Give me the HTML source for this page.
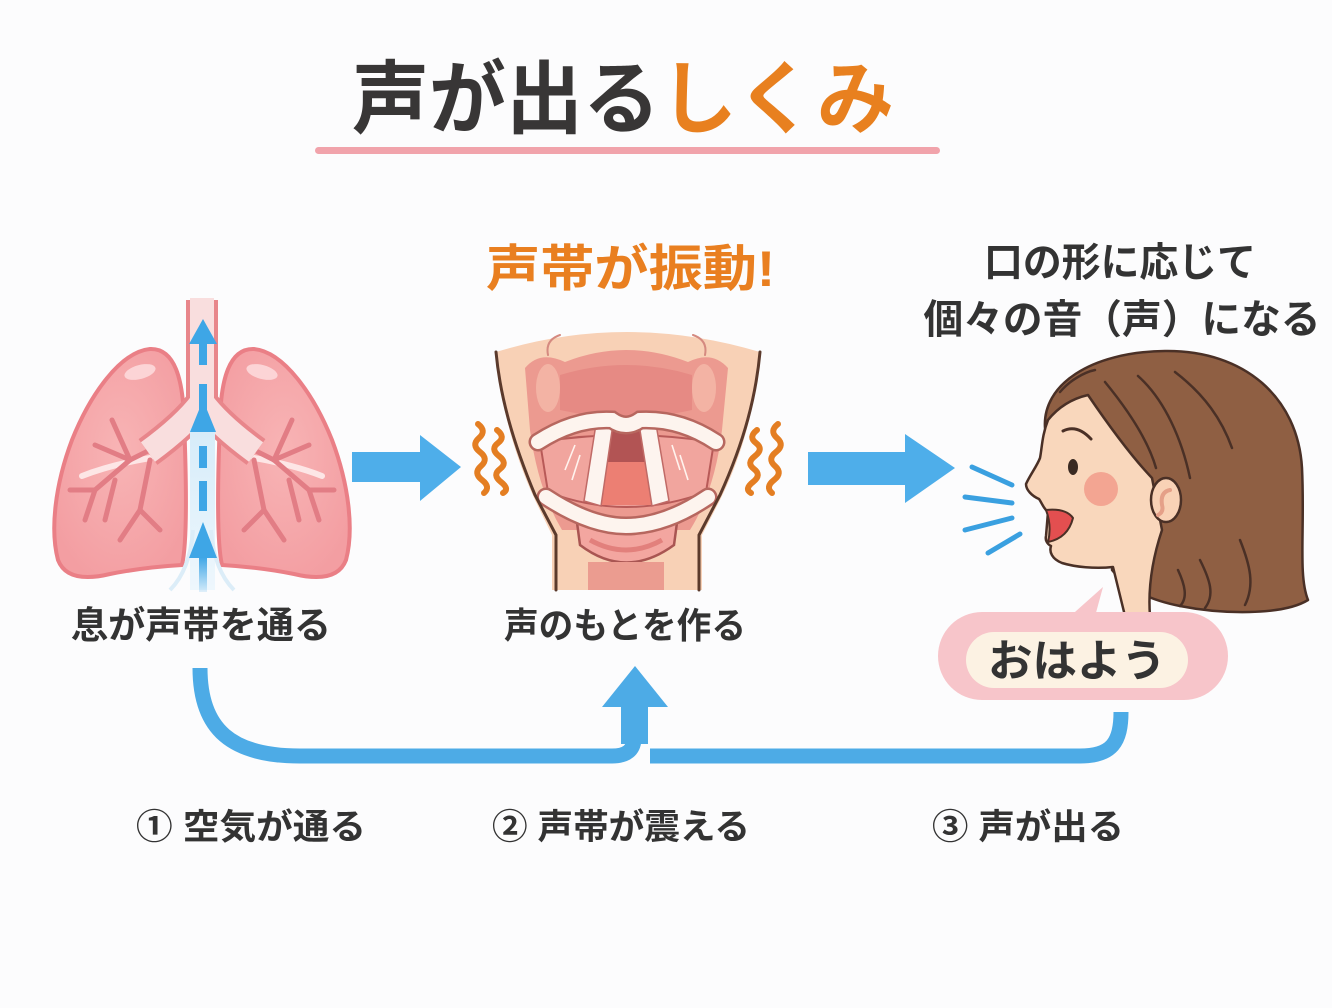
<!DOCTYPE html>
<html lang="ja">
<head>
<meta charset="UTF-8">
<style>
html,body{margin:0;padding:0;background:#fcfcfd;}
svg{display:block;}
text{font-family:"Liberation Sans","Noto Sans CJK JP",sans-serif;font-weight:700;}
</style>
</head>
<body>
<svg width="1332" height="1008" viewBox="0 0 1332 1008" xmlns="http://www.w3.org/2000/svg">
<defs>
  <linearGradient id="glow" x1="0" y1="0" x2="0" y2="1">
    <stop offset="0" stop-color="#d6ecf9"/>
    <stop offset="1" stop-color="#eef7fd"/>
  </linearGradient>
  <linearGradient id="stemfade" x1="0" y1="0" x2="0" y2="1">
    <stop offset="0" stop-color="#3ea6e6"/>
    <stop offset="1" stop-color="#3ea6e6" stop-opacity="0.15"/>
  </linearGradient>
  <radialGradient id="lungfill" cx="0.5" cy="0.45" r="0.6">
    <stop offset="0" stop-color="#f8b4b5"/>
    <stop offset="1" stop-color="#f39ea2"/>
  </radialGradient>
</defs>
<rect width="1332" height="1008" fill="#fcfcfd"/>

<!-- Title -->
<text x="352" y="127" font-size="80" textLength="542" lengthAdjust="spacingAndGlyphs"><tspan fill="#383636">声が出る</tspan><tspan fill="#e8801f">しくみ</tspan></text>
<rect x="315" y="147" width="625" height="7" rx="3.5" fill="#f1a3ab"/>

<!-- ===== Lungs ===== -->
<g>
  <path d="M150 349 C120 352 90 395 72 440 C55 485 50 530 58 560 C65 578 85 580 110 574 C140 568 165 566 182 565 C188 540 186 470 184 420 C183 380 175 348 150 349 Z" fill="url(#lungfill)" stroke="#ea7f86" stroke-width="4"/>
  <path d="M254 349 C284 352 314 395 332 440 C349 485 354 530 346 560 C339 578 319 580 294 574 C264 568 239 566 222 565 C216 540 218 470 220 420 C221 380 229 348 254 349 Z" fill="url(#lungfill)" stroke="#ea7f86" stroke-width="4"/>
  <ellipse cx="140" cy="372" rx="16" ry="7" fill="#fcd4d6" transform="rotate(-15 140 372)"/>
  <ellipse cx="262" cy="372" rx="16" ry="7" fill="#fcd4d6" transform="rotate(15 262 372)"/>
  <path d="M82 476 Q110 465 150 458" stroke="#fde6e6" stroke-width="6" fill="none" stroke-linecap="round"/>
  <path d="M322 476 Q294 465 254 458" stroke="#fde6e6" stroke-width="6" fill="none" stroke-linecap="round"/>
  <g stroke="#e27d85" stroke-width="5" fill="none" stroke-linecap="round">
    <path d="M160 445 L130 460 L95 445"/>
    <path d="M130 460 L112 420"/>
    <path d="M130 460 L95 490 L85 520"/>
    <path d="M95 490 L70 490"/>
    <path d="M150 460 L140 510 L120 540"/>
    <path d="M140 510 L160 530"/>
    <path d="M115 480 L105 520"/>
    <path d="M244 445 L274 460 L309 445"/>
    <path d="M274 460 L292 420"/>
    <path d="M274 460 L309 490 L319 520"/>
    <path d="M309 490 L334 490"/>
    <path d="M254 460 L264 510 L284 540"/>
    <path d="M264 510 L244 530"/>
    <path d="M289 480 L299 520"/>
  </g>
  <g fill="none" stroke-linecap="butt">
    <path d="M202 300 L202 402 M202 402 Q185 425 148 452 M202 402 Q219 425 256 452" stroke="#e8868b" stroke-width="32"/>
    <path d="M202 298 L202 402 M202 402 Q185 425 148 452 M202 402 Q219 425 256 452" stroke="#f9dede" stroke-width="24"/>
  </g>
  <rect x="190" y="428" width="25" height="162" fill="url(#glow)"/>
  <path d="M170 590 Q190 570 193 530 M234 590 Q214 570 211 530" stroke="#dcedf8" stroke-width="4" fill="none"/>
  <g fill="#3ea6e6">
    <polygon points="203,319 189,344 217,344"/>
    <rect x="199" y="343" width="8" height="22"/>
    <rect x="199" y="384" width="8" height="46"/>
    <polygon points="203,400 190,432 216,432"/>
    <rect x="199" y="446" width="8" height="22"/>
    <rect x="199" y="481" width="8" height="30"/>
    <polygon points="203,522 189,558 217,558"/>
    <rect x="199" y="557" width="8" height="35" fill="url(#stemfade)"/>
  </g>
</g>

<!-- Arrows between -->
<polygon points="352,452 420,452 420,435 461,467 420,501 420,482 352,482" fill="#4eaeea"/>
<polygon points="808,452 905,452 905,434 955,468 905,503 905,485 808,485" fill="#4eaeea"/>

<!-- squiggles -->
<g stroke="#e47e22" stroke-width="6" fill="none" stroke-linecap="round">
  <path d="M478 424 q9 7 1 14 t1 14 t1 14 t1 14 t2 13"/>
  <path d="M497 430 q9 7 1 13 t1 13 t1 13 t1 13 t2 11"/>
  <path d="M757 430 q-9 7 -1 13 t-1 13 t-1 13 t-1 13 t-2 11"/>
  <path d="M778 424 q-9 7 -1 14 t-1 14 t-1 14 t-1 14 t-2 13"/>
</g>

<!-- ===== Larynx ===== -->
<g>
  <path d="M496 352 Q626 312 760 352 C756 400 745 450 720 500 L702 535 L702 590 L552 590 L552 535 L535 500 C512 450 500 400 496 352 Z" fill="#f8d1b6"/>
  <path d="M525 368 Q540 350 565 362 Q626 338 688 362 Q712 350 728 368 L722 430 Q715 490 690 530 L562 530 Q538 490 530 430 Z" fill="#ec9a90"/>
  <ellipse cx="548" cy="388" rx="12" ry="24" fill="#f3b3a4"/>
  <ellipse cx="704" cy="388" rx="12" ry="24" fill="#f3b3a4"/>
  <path d="M560 375 Q626 355 692 375 L692 410 Q626 425 560 410 Z" fill="#e68a84"/>
  <path d="M540 442 Q626 428 714 442 L706 492 Q626 522 548 492 Z" fill="#f1a59e" stroke="#b85a58" stroke-width="2"/>
  <g stroke="#fff3ee" stroke-width="1.6" fill="none">
    <path d="M565 470 L575 445 M572 480 L580 455 M680 470 L672 445 M688 480 L680 455"/>
  </g>
  <polygon points="612,428 640,428 649,462 603,462" fill="#b25454"/>
  <polygon points="603,462 649,462 655,505 598,505" fill="#ec7f73"/>
  <polygon points="596,424 613,424 601,506 584,501" fill="#fdf4ef" stroke="#c06a66" stroke-width="1.5"/>
  <polygon points="639,424 656,424 669,501 652,506" fill="#fdf4ef" stroke="#c06a66" stroke-width="1.5"/>
  <path d="M538 442 Q575 418 612 420 Q626 430 640 420 Q680 418 716 442" stroke="#b7675f" stroke-width="19" fill="none" stroke-linecap="round"/>
  <path d="M538 442 Q575 418 612 420 Q626 430 640 420 Q680 418 716 442" stroke="#fdf4ee" stroke-width="14" fill="none" stroke-linecap="round"/>
  <path d="M576 515 Q626 540 678 515 L674 545 Q626 580 580 545 Z" fill="#f3a6a0" stroke="#a95552" stroke-width="2.5"/>
  <path d="M590 540 Q626 560 662 540" stroke="#e2807c" stroke-width="5" fill="none"/>
  <rect x="588" y="562" width="76" height="28" fill="#eb9c90"/>
  <path d="M546 497 Q590 526 626 526 Q665 526 708 497" stroke="#b7675f" stroke-width="19" fill="none" stroke-linecap="round"/>
  <path d="M546 497 Q590 526 626 526 Q665 526 708 497" stroke="#fdf4ee" stroke-width="14" fill="none" stroke-linecap="round"/>
  <g stroke="#5b3a2c" stroke-width="3" fill="none" stroke-linecap="round">
    <path d="M496 352 C500 395 512 440 535 495 L556 535 L556 590"/>
    <path d="M760 352 C756 395 745 440 720 495 L699 535 L699 590"/>
    <path d="M548 355 Q545 340 560 335 M705 355 Q708 340 693 335" stroke="#d58a80" stroke-width="2"/>
  </g>
</g>

<!-- ===== Girl ===== -->
<g stroke-linejoin="round">
  <g stroke="#3aa0e0" stroke-width="5" stroke-linecap="round">
    <line x1="972" y1="467" x2="1012" y2="485"/>
    <line x1="965" y1="497" x2="1012" y2="503"/>
    <line x1="965" y1="530" x2="1012" y2="518"/>
    <line x1="988" y1="553" x2="1020" y2="534"/>
  </g>
  <path d="M1045 428 C1042 385 1090 352 1165 351 C1245 350 1298 398 1302 468 C1305 530 1298 575 1308 600 C1282 616 1220 614 1180 606 C1150 600 1128 590 1112 570 L1120 480 Z" fill="#8f5f43" stroke="#4a3026" stroke-width="2.5"/>
  <path d="M1048 420 C1060 405 1075 398 1088 395 C1105 420 1130 455 1152 478 L1162 530 C1152 560 1148 590 1150 616 L1125 616 L1113 567 C1095 569 1075 567 1062 563 C1052 559 1049 552 1051 546 C1047 544 1045 540 1046 536 L1048 512 C1043 508 1042 503 1039 499 C1032 496 1026 490 1026 484 C1030 475 1037 466 1040 458 C1042 448 1042 435 1048 420 Z" fill="#f9d7bc" stroke="#4a3026" stroke-width="2.5"/>
  <path d="M1046 510 Q1066 508 1073 518 Q1068 538 1048 542 Q1052 526 1046 510 Z" fill="#e34f50" stroke="#4a3026" stroke-width="2"/>
  <ellipse cx="1073" cy="467" rx="5" ry="8" fill="#3a2a22"/>
  <path d="M1063 431 Q1077 424 1091 439" stroke="#4a3026" stroke-width="3" fill="none" stroke-linecap="round"/>
  <circle cx="1101" cy="489" r="17" fill="#f2a08d" opacity="0.9"/>
  <ellipse cx="1166" cy="500" rx="15" ry="22" fill="#f9d2b6" stroke="#4a3026" stroke-width="2.5"/>
  <path d="M1170 490 Q1160 492 1162 505 Q1164 512 1158 515" stroke="#e5a088" stroke-width="4" fill="none" stroke-linecap="round"/>
  <g stroke="#4a3026" stroke-width="2.5" fill="none" stroke-linecap="round">
    <path d="M1105 382 C1128 410 1148 440 1156 468"/>
    <path d="M1138 376 C1165 400 1182 440 1190 478"/>
    <path d="M1175 372 C1205 395 1222 420 1232 448"/>
    <path d="M1060 392 C1070 380 1085 372 1095 370"/>
    <path d="M1200 560 C1210 580 1215 595 1205 608"/>
    <path d="M1240 540 C1250 565 1255 585 1245 605"/>
    <path d="M1178 570 C1185 585 1188 598 1180 606"/>
  </g>
</g>

<!-- Bubble -->
<polygon points="1066,620 1103,587 1094,620" fill="#f7c5ca"/>
<rect x="938" y="612" width="290" height="88" rx="44" fill="#f7c5ca"/>
<rect x="966" y="632" width="222" height="56" rx="28" fill="#fcf2e3"/>
<text x="1077" y="676" font-size="44" fill="#333" text-anchor="middle" textLength="178" lengthAdjust="spacingAndGlyphs">おはよう</text>

<!-- Headings -->
<text x="486" y="286" font-size="50" fill="#e97f20" textLength="289" lengthAdjust="spacingAndGlyphs">声帯が振動!</text>
<text x="1120" y="276" font-size="40" fill="#333" text-anchor="middle" textLength="272" lengthAdjust="spacingAndGlyphs">口の形に応じて</text>
<text x="1122" y="333" font-size="40" fill="#333" text-anchor="middle" textLength="397" lengthAdjust="spacingAndGlyphs">個々の音（声）になる</text>

<!-- labels -->
<text x="71" y="638" font-size="37" fill="#333" textLength="260" lengthAdjust="spacingAndGlyphs">息が声帯を通る</text>
<text x="504" y="638" font-size="36" fill="#333" textLength="242" lengthAdjust="spacingAndGlyphs">声のもとを作る</text>

<!-- bottom connector -->
<g fill="none" stroke="#4dabe6" stroke-width="15" stroke-linecap="butt">
  <path d="M200 668 C200 730 232 756 300 756 L612 756 Q634 756 634 738"/>
  <path d="M650 756 L1080 756 C1112 756 1121 742 1121 712"/>
</g>
<rect x="621" y="704" width="27" height="40" fill="#4dabe6"/>
<polygon points="635,666 602,707 668,707" fill="#4dabe6"/>

<!-- step labels -->
<text x="136" y="839" font-size="35" fill="#333" textLength="230" lengthAdjust="spacingAndGlyphs">① 空気が通る</text>
<text x="492" y="839" font-size="35" fill="#333" textLength="258" lengthAdjust="spacingAndGlyphs">② 声帯が震える</text>
<text x="932" y="839" font-size="35" fill="#333" textLength="192" lengthAdjust="spacingAndGlyphs">③ 声が出る</text>
</svg>
</body>
</html>
